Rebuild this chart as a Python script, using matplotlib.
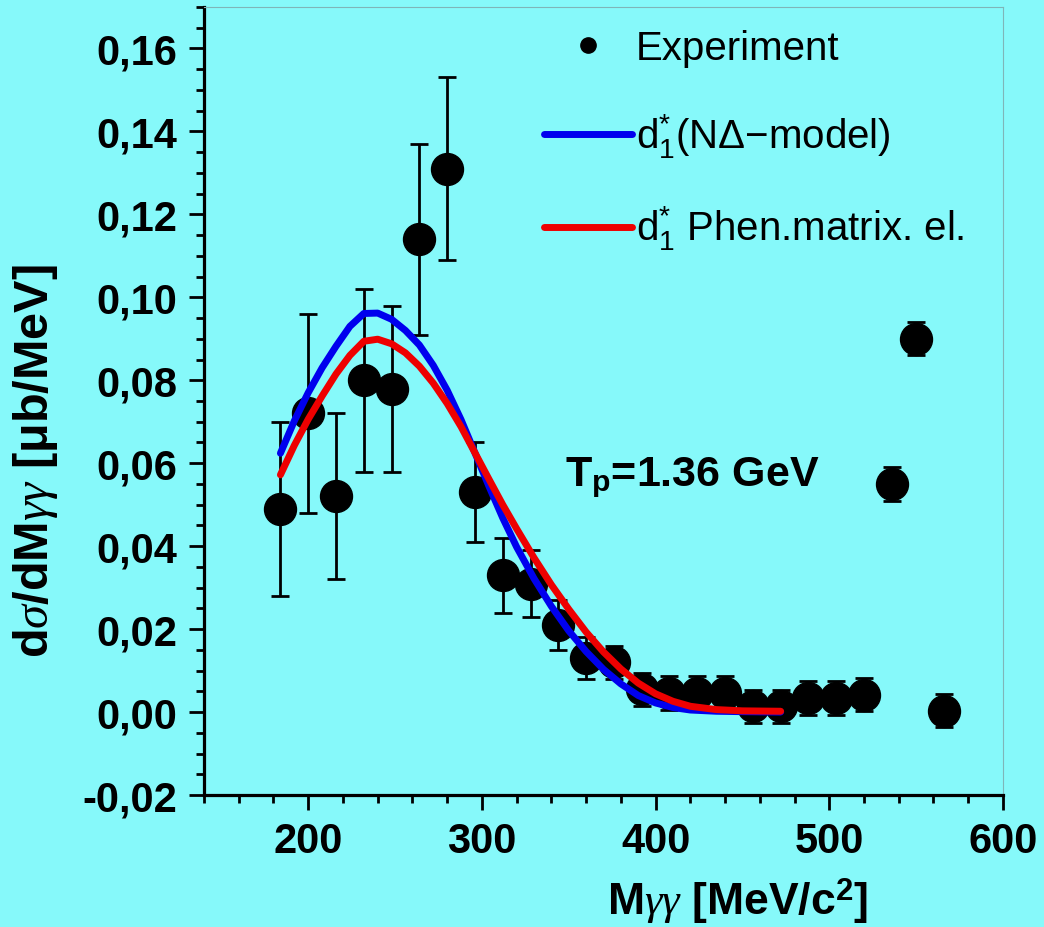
import matplotlib
matplotlib.use("Agg")
import matplotlib.pyplot as plt
from matplotlib.ticker import MultipleLocator, FuncFormatter
from matplotlib.lines import Line2D

plt.rcParams['font.family'] = ['Liberation Sans', 'DejaVu Sans']
plt.rcParams['mathtext.fontset'] = 'custom'
plt.rcParams['mathtext.rm'] = 'Liberation Sans'
plt.rcParams['mathtext.bf'] = 'Liberation Sans:bold'
plt.rcParams['mathtext.it'] = 'Liberation Serif:italic'

# ---- data ----
exp_x = [184, 200, 216, 232, 248, 264, 280, 296, 312, 328, 344, 360, 376,
         392, 408, 424, 440, 456, 472, 488, 504, 520, 536, 550, 566]
exp_y = [0.049, 0.072, 0.052, 0.080, 0.078, 0.114, 0.131, 0.053, 0.033, 0.031,
         0.021, 0.013, 0.012, 0.0055, 0.0046, 0.0046, 0.0046, 0.0014, 0.0014,
         0.0034, 0.0034, 0.0042, 0.055, 0.090, 0.0003]
exp_err = [0.021, 0.024, 0.020, 0.022, 0.020, 0.023, 0.022, 0.012, 0.009, 0.008,
           0.006, 0.005, 0.004, 0.004, 0.004, 0.004, 0.004, 0.004, 0.004,
           0.004, 0.004, 0.004, 0.004, 0.004, 0.004]

nd_x = [184, 192, 200, 208, 216, 224, 232, 240, 248, 256, 264, 272, 280, 288,
        296, 304, 312, 320, 330, 340, 350, 360, 370, 380, 390, 400, 410, 420,
        435, 450, 472]
nd_y = [0.0624, 0.0702, 0.0770, 0.0830, 0.0882, 0.0930, 0.0961, 0.0962, 0.0947,
        0.0920, 0.0885, 0.0836, 0.0776, 0.0705, 0.0625, 0.0545, 0.0468, 0.0398,
        0.0322, 0.0255, 0.0196, 0.0146, 0.0103, 0.0068, 0.0040, 0.0022, 0.0011,
        0.0005, 0.0002, 0.0001, 0.0]

ph_x = [184, 192, 200, 208, 216, 224, 232, 240, 248, 256, 264, 272, 280, 288,
        296, 304, 312, 320, 330, 340, 350, 360, 370, 380, 390, 400, 410, 420,
        435, 450, 472]
ph_y = [0.0572, 0.0643, 0.0706, 0.0762, 0.0815, 0.0860, 0.0894, 0.0899, 0.0888,
        0.0866, 0.0834, 0.0793, 0.0744, 0.0688, 0.0625, 0.0562, 0.0500, 0.0442,
        0.0372, 0.0307, 0.0248, 0.0193, 0.0145, 0.0104, 0.0070, 0.0044, 0.0026,
        0.0014, 0.0006, 0.0003, 0.0002]

label_exp = 'Experiment'
label_nd = r'd$_{\mathrm{1}}^{\mathrm{*}}$(NΔ−model)'
label_ph = r'd$_{\mathrm{1}}^{\mathrm{*}}$ Phen.matrix. el.'

bg = '#86F9FA'
blue = '#0000EE'
red = '#EE0000'

fig = plt.figure(figsize=(10.44, 9.28), dpi=100, facecolor=bg)
ax = fig.add_axes([0.1954, 0.1422, 0.9607 - 0.1954, 0.9914 - 0.1422])
ax.set_facecolor(bg)

ax.errorbar(exp_x, exp_y, yerr=exp_err, fmt='o', color='black', ms=23,
            ecolor='black', elinewidth=2, capsize=6.5, capthick=2, zorder=3)
ln_nd, = ax.plot(nd_x, nd_y, color=blue, lw=5, solid_capstyle='round',
                 solid_joinstyle='round', zorder=4)
ln_ph, = ax.plot(ph_x, ph_y, color=red, lw=5, solid_capstyle='round',
                 solid_joinstyle='round', zorder=5)

ax.set_xlim(140, 600)
ax.set_ylim(-0.02, 0.17)
ax.xaxis.set_major_locator(MultipleLocator(100))
ax.xaxis.set_minor_locator(MultipleLocator(20))
ax.yaxis.set_major_locator(MultipleLocator(0.02))
ax.yaxis.set_minor_locator(MultipleLocator(0.005))
ax.yaxis.set_major_formatter(FuncFormatter(
    lambda v, p: f"{v:.2f}".replace('.', ',').replace('-0,00', '0,00')))

for s in ['left', 'bottom']:
    ax.spines[s].set_linewidth(2.3)
    ax.spines[s].set_color('black')
for s in ['top', 'right']:
    ax.spines[s].set_linewidth(0.8)
    ax.spines[s].set_color('#7fb5b8')

ax.tick_params(which='major', direction='out', length=11, width=2, pad=8,
               labelsize=30, top=False, right=False)
ax.tick_params(which='minor', direction='out', length=6, width=2, top=False, right=False)
for lab in ax.get_xticklabels() + ax.get_yticklabels():
    lab.set_fontweight('bold')

ax.set_xticks([200, 300, 400, 500, 600])
ax.set_xticklabels(['200', '300', '400', '500', '600'], fontweight='bold', fontsize=30)

ax.set_xlabel(r'M$\gamma\gamma$ [MeV/c$^{\mathbf{2}}$]', fontsize=32, fontweight='bold')
ax.xaxis.set_label_coords(0.668, -0.102)
ax.set_ylabel(r'd$\sigma$/dM$\gamma\gamma$ [μb/MeV]', fontsize=35, fontweight='bold')
ax.yaxis.set_label_coords(-0.18, 0.425)

ax.text(348, 0.0547, r'T$_{\mathbf{p}}$=1.36 GeV', fontsize=31, fontweight='bold',
        ha='left', va='baseline', zorder=6)

exp_handle = Line2D([], [], marker='o', ls='none', color='black', ms=11)
leg = ax.legend([exp_handle, ln_nd, ln_ph], [label_exp, label_nd, label_ph],
                loc='upper left', bbox_to_anchor=(0.425, 0.972), frameon=False,
                fontsize=29, handlelength=2.2, handletextpad=0.1, labelspacing=1.1,
                borderpad=0.0, borderaxespad=0.0)

fig.savefig('out.png', dpi=100, facecolor=bg)
